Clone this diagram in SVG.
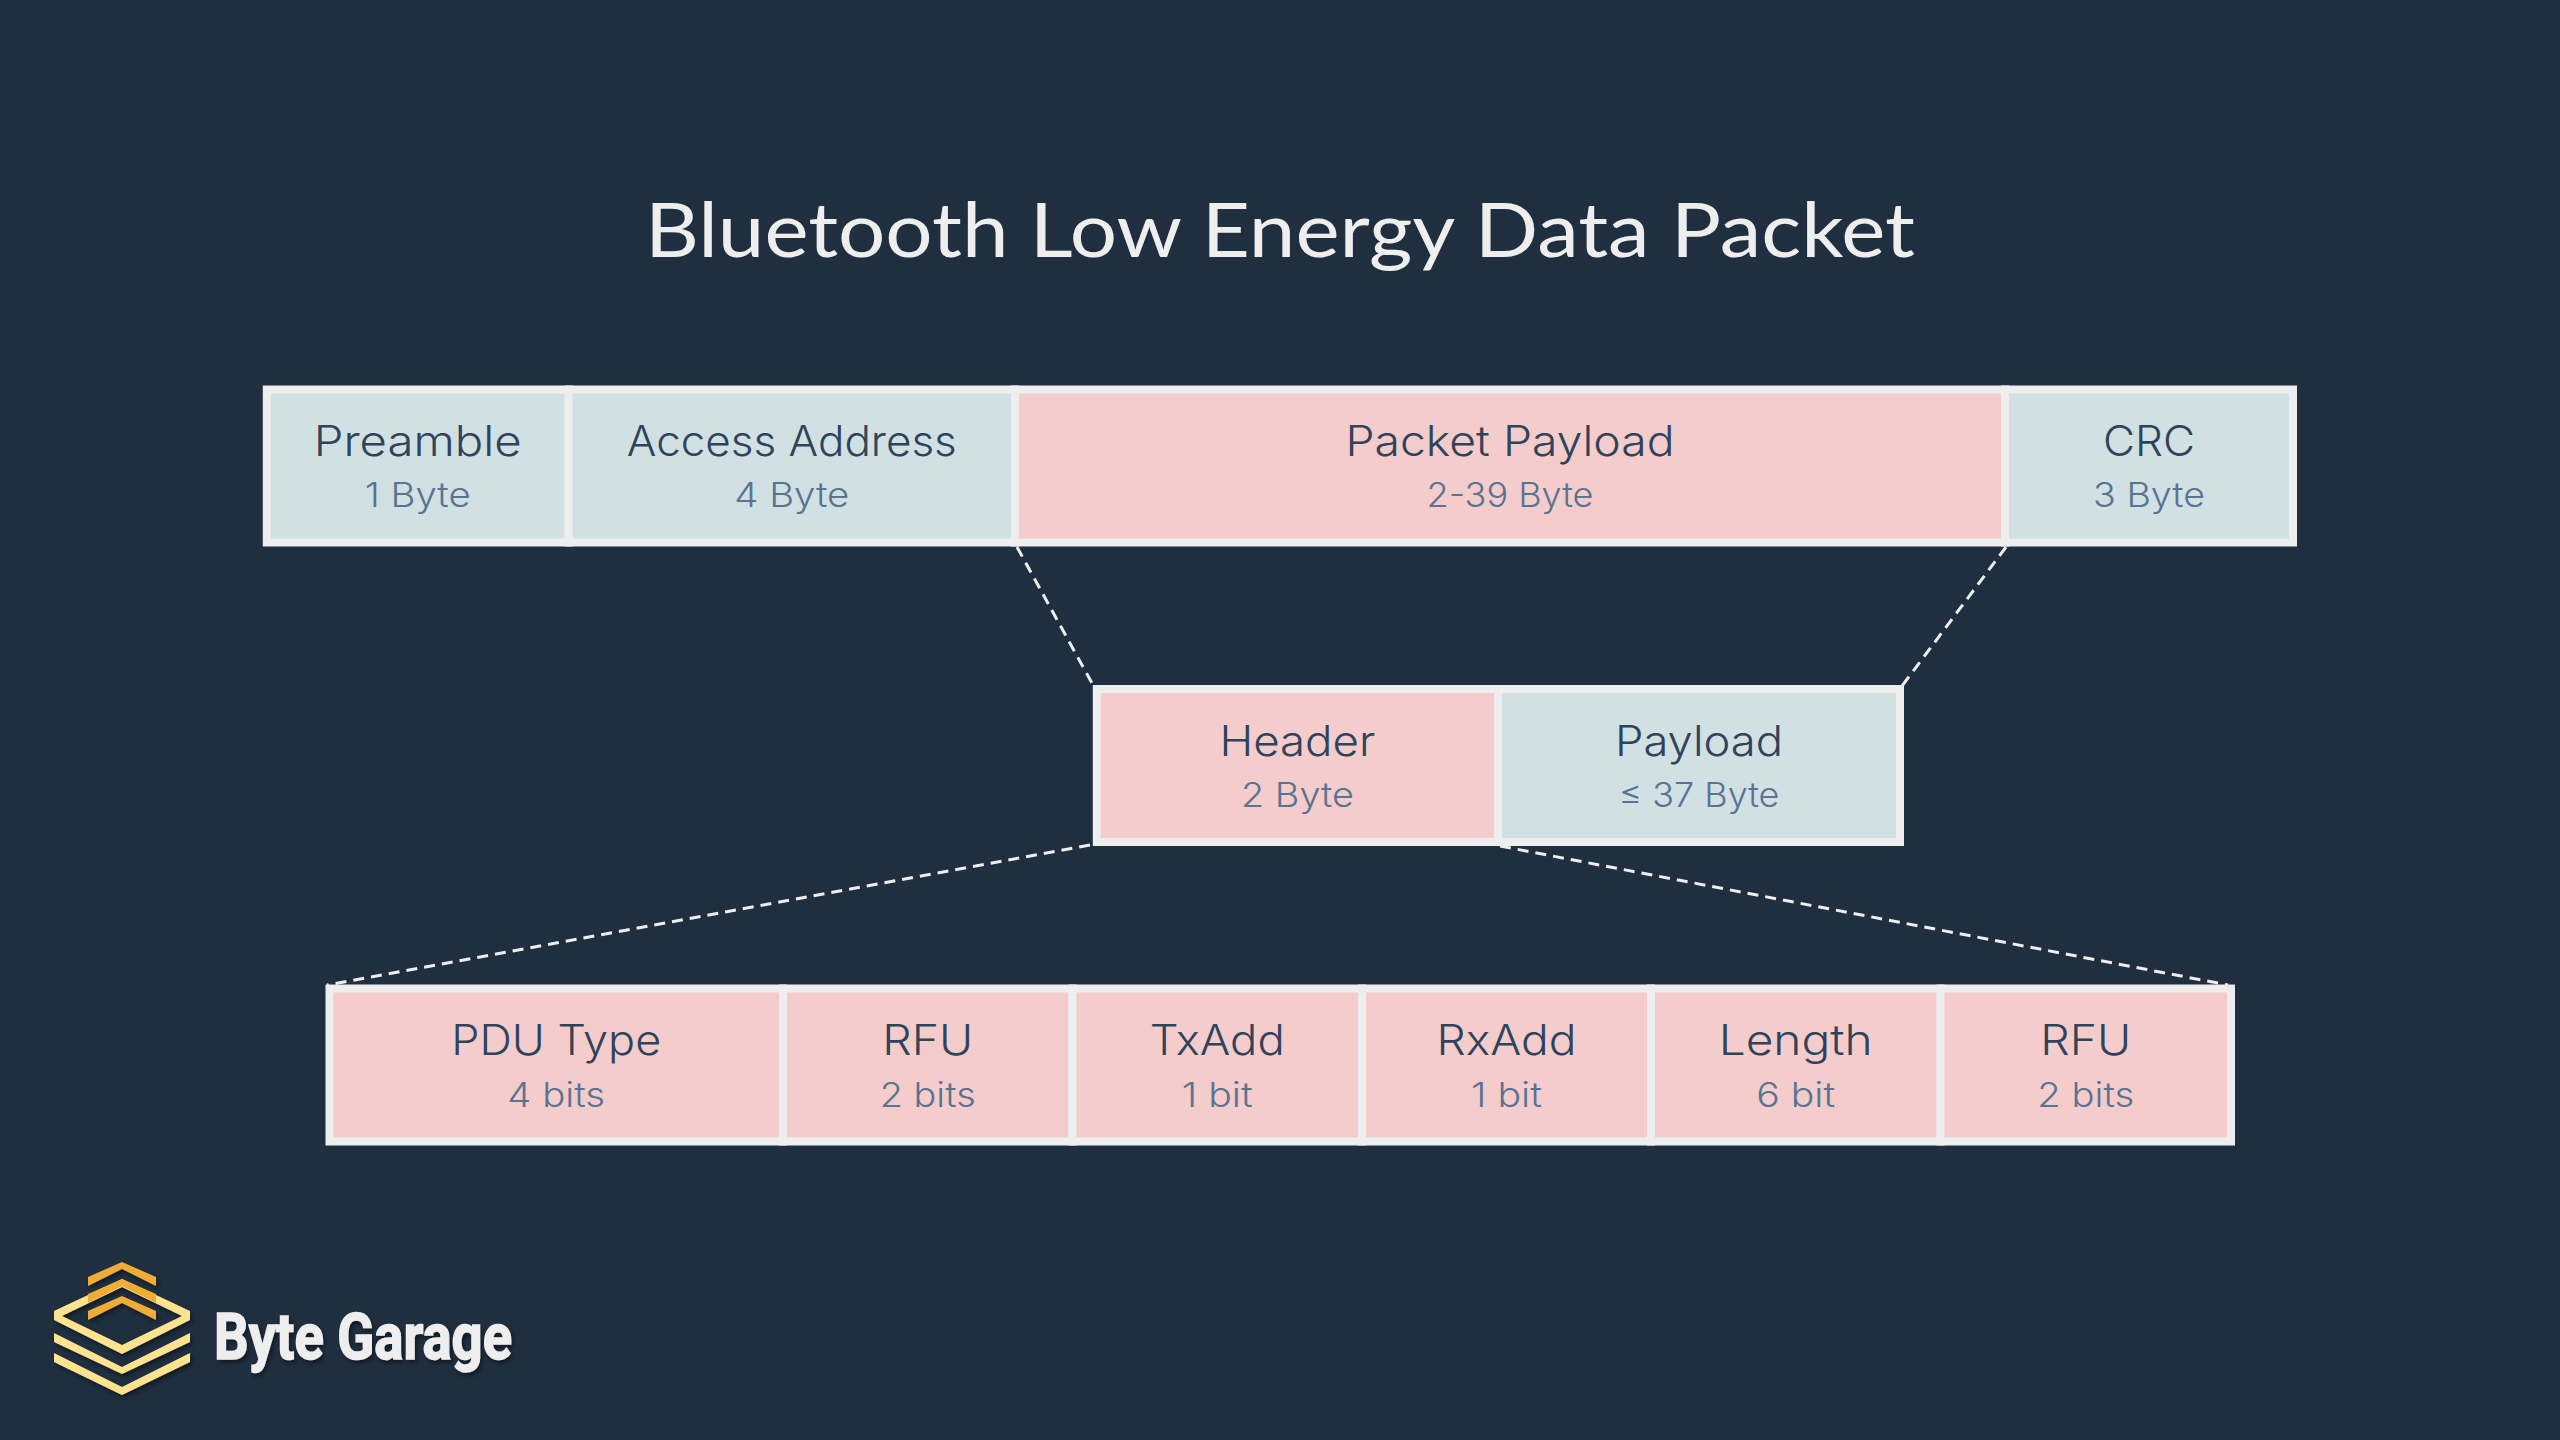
<svg xmlns="http://www.w3.org/2000/svg" width="2560" height="1440" viewBox="0 0 2560 1440">
<style>
.p{fill:#f4cccc;stroke:#eeeeee;stroke-width:8}
.b{fill:#d0e0e3;stroke:#eeeeee;stroke-width:8}
.n{font-family:"Inter","Noto Sans",sans-serif;font-weight:300;font-size:42px;fill:#2f435a;text-anchor:middle}
.s{font-family:"Inter","Noto Sans",sans-serif;font-weight:300;font-size:34px;fill:#5a7391;text-anchor:middle}
.t{font-family:"Lato","Noto Sans",sans-serif;font-weight:400;font-size:76px;fill:#eeeeee}
.d{fill:none;stroke:#eeeeee;stroke-width:3;stroke-dasharray:11 7}
.y{fill:#ffe38f}
.o{fill:#f0ad35}
</style>
<defs><filter id="sh" x="-10%" y="-10%" width="120%" height="130%"><feDropShadow dx="2" dy="3" stdDeviation="2" flood-color="#000000" flood-opacity="0.45"/></filter></defs>
<rect width="2560" height="1440" fill="#1f2f40"/>
<text id="title" class="t" x="645" y="256.5" textLength="1270" lengthAdjust="spacingAndGlyphs">Bluetooth Low Energy Data Packet</text>
<g id="connectors">
<line class="d" x1="1017" y1="547" x2="1093" y2="685"/>
<line class="d" x1="2006" y1="547" x2="1902" y2="686"/>
<line class="d" x1="1090" y1="845" x2="327" y2="985"/>
<line class="d" x1="1500" y1="846" x2="2228" y2="985"/>
</g>
<g id="preamble"><rect class="b" x="266.8" y="389.5" width="301.8" height="153"/><text class="n" x="417.7" y="455.5" textLength="208" lengthAdjust="spacingAndGlyphs">Preamble</text><text class="s" x="417.7" y="507" textLength="106" lengthAdjust="spacingAndGlyphs">1 Byte</text></g>
<g id="access-address"><rect class="b" x="568.6" y="389.5" width="446.4" height="153"/><text class="n" x="791.8" y="455.5" textLength="330" lengthAdjust="spacingAndGlyphs">Access Address</text><text class="s" x="791.8" y="507" textLength="115" lengthAdjust="spacingAndGlyphs">4 Byte</text></g>
<g id="packet-payload"><rect class="p" x="1015" y="389.5" width="990" height="153"/><text class="n" x="1510" y="455.5" textLength="329" lengthAdjust="spacingAndGlyphs">Packet Payload</text><text class="s" x="1510" y="507" textLength="167" lengthAdjust="spacingAndGlyphs">2-39 Byte</text></g>
<g id="crc"><rect class="b" x="2005" y="389.5" width="288" height="153"/><text class="n" x="2149" y="455.5" textLength="92" lengthAdjust="spacingAndGlyphs">CRC</text><text class="s" x="2149" y="507" textLength="112" lengthAdjust="spacingAndGlyphs">3 Byte</text></g>
<g id="header"><rect class="p" x="1096.8" y="689" width="401.2" height="153"/><text class="n" x="1297.4" y="755.5" textLength="156" lengthAdjust="spacingAndGlyphs">Header</text><text class="s" x="1297.4" y="807" textLength="113" lengthAdjust="spacingAndGlyphs">2 Byte</text></g>
<g id="payload"><rect class="b" x="1498" y="689" width="402" height="153"/><text class="n" x="1699" y="755.5" textLength="168" lengthAdjust="spacingAndGlyphs">Payload</text><text class="s" x="1699" y="807" textLength="161" lengthAdjust="spacingAndGlyphs">≤ 37 Byte</text></g>
<g id="pdu-type"><rect class="p" x="329.5" y="988.5" width="453.5" height="153"/><text class="n" x="556.2" y="1055" textLength="210" lengthAdjust="spacingAndGlyphs">PDU Type</text><text class="s" x="556.2" y="1106.5" textLength="98" lengthAdjust="spacingAndGlyphs">4 bits</text></g>
<g id="rfu-1"><rect class="p" x="783" y="988.5" width="289.5" height="153"/><text class="n" x="927.7" y="1055" textLength="91" lengthAdjust="spacingAndGlyphs">RFU</text><text class="s" x="927.7" y="1106.5" textLength="96" lengthAdjust="spacingAndGlyphs">2 bits</text></g>
<g id="txadd"><rect class="p" x="1072.5" y="988.5" width="289.5" height="153"/><text class="n" x="1217.2" y="1055" textLength="135" lengthAdjust="spacingAndGlyphs">TxAdd</text><text class="s" x="1217.2" y="1106.5" textLength="71" lengthAdjust="spacingAndGlyphs">1 bit</text></g>
<g id="rxadd"><rect class="p" x="1362" y="988.5" width="289" height="153"/><text class="n" x="1506.5" y="1055" textLength="140" lengthAdjust="spacingAndGlyphs">RxAdd</text><text class="s" x="1506.5" y="1106.5" textLength="71" lengthAdjust="spacingAndGlyphs">1 bit</text></g>
<g id="length"><rect class="p" x="1651" y="988.5" width="289.5" height="153"/><text class="n" x="1795.7" y="1055" textLength="154" lengthAdjust="spacingAndGlyphs">Length</text><text class="s" x="1795.7" y="1106.5" textLength="79" lengthAdjust="spacingAndGlyphs">6 bit</text></g>
<g id="rfu-2"><rect class="p" x="1940.5" y="988.5" width="290.5" height="153"/><text class="n" x="2085.7" y="1055" textLength="91" lengthAdjust="spacingAndGlyphs">RFU</text><text class="s" x="2085.7" y="1106.5" textLength="97" lengthAdjust="spacingAndGlyphs">2 bits</text></g>
<g id="logo" filter="url(#sh)">
<path class="y" fill-rule="evenodd" d="M122 1279L190 1311V1320L122 1354L54 1320V1311ZM122 1287L62 1316L122 1345L182 1316Z"/>
<path class="y" d="M54 1333L122 1367L190 1333V1342L122 1374L54 1342Z"/>
<path class="y" d="M54 1353L122 1387L190 1353V1362L122 1395L54 1362Z"/>
<path class="o" d="M88 1277L122 1262L156 1277V1286L122 1269L88 1286Z"/>
<path class="o" d="M88 1294L122 1279L156 1294V1303L122 1286L88 1303Z"/>
<path class="o" d="M88 1311L122 1296L156 1311V1320L122 1303L88 1320Z"/>
<text x="214" y="1359" font-family="Roboto,'Liberation Sans',sans-serif" font-weight="700" font-size="64" fill="#eeeeee" stroke="#eeeeee" stroke-width="1.5" textLength="298" lengthAdjust="spacingAndGlyphs">Byte Garage</text>
</g>
</svg>
